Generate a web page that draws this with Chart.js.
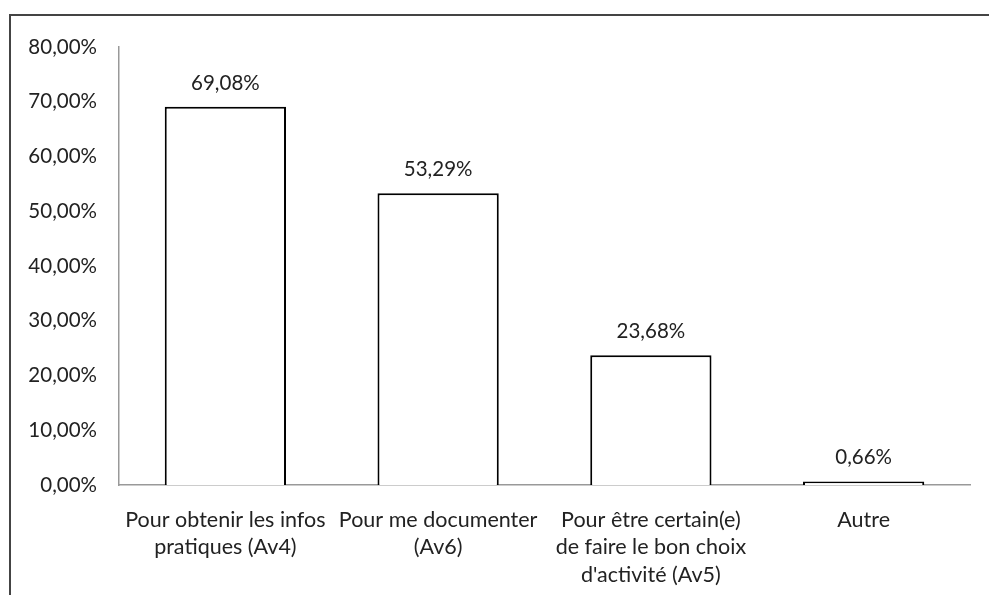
<!DOCTYPE html>
<html>
<head>
<meta charset="utf-8">
<script src="https://cdn.jsdelivr.net/npm/chart.js@4/dist/chart.umd.min.js"></script>
<style>
  html, body { margin: 0; padding: 0; background: #fff; }
  #wrap { width: 989px; height: 595px; position: relative; }
</style>
</head>
<body>
<div id="wrap"><canvas id="chart" width="989" height="595"></canvas></div>
<script>
// ── Data ──
const categories = [
    ['Pour obtenir les infos', 'pratiques (Av4)'],
    ['Pour me documenter', '(Av6)'],
    ['Pour être certain(e)', 'de faire le bon choix', "d'activité (Av5)"],
    ['Autre']
];
const values = [69.08, 53.29, 23.68, 0.66];
const yTicks = [0, 10, 20, 30, 40, 50, 60, 70, 80];

const fmt = v => v.toFixed(2).replace('.', ',') + '%';

// ── Frame (top + left border) ──
const framePlugin = {
    id: 'frame',
    beforeDraw(chart) {
        const c = chart.ctx;
        c.save();
        c.strokeStyle = '#444';
        c.lineWidth = 2;
        c.beginPath();
        c.moveTo(10, 595);
        c.lineTo(10, 15);
        c.lineTo(989, 15);
        c.stroke();
        c.restore();
    }
};

// ── Value labels above bars ──
const valueLabels = {
    id: 'valueLabels',
    afterDatasetsDraw(chart) {
        const c = chart.ctx;
        const meta = chart.getDatasetMeta(0);
        c.save();
        c.font = '20.5px Lato';
        c.fillStyle = '#222';
        c.textAlign = 'center';
        c.textBaseline = 'alphabetic';
        meta.data.forEach((bar, i) => {
            c.fillText(fmt(values[i]), bar.x, bar.y - 17);
        });
        c.restore();
    }
};

Chart.defaults.font.family = 'Lato';
Chart.defaults.font.size = 20.5;
Chart.defaults.color = '#222';

new Chart(document.getElementById('chart'), {
    type: 'bar',
    data: {
        labels: categories,
        datasets: [{
            data: values,
            backgroundColor: '#fff',
            borderColor: '#000',
            borderWidth: 2,
            barPercentage: 0.57,
            categoryPercentage: 1
        }]
    },
    options: {
        responsive: false,
        animation: false,
        layout: { padding: { left: 0, right: 19, top: 47, bottom: 0 } },
        plugins: { legend: { display: false }, tooltip: { enabled: false } },
        scales: {
            x: {
                grid: { display: false, drawTicks: false },
                border: { color: '#999', width: 1.5 },
                ticks: { padding: 21, maxRotation: 0, autoSkip: false, font: { size: 21.5, lineHeight: 1.28 } },
                afterFit: s => { s.height = 110; }
            },
            y: {
                min: 0, max: 80,
                afterBuildTicks: s => { s.ticks = yTicks.map(v => ({ value: v })); },
                grid: { display: false, drawTicks: false },
                border: { color: '#999', width: 1.5 },
                ticks: { padding: 22, callback: v => fmt(v) },
                afterFit: s => { s.width = 119; }
            }
        }
    },
    plugins: [framePlugin, valueLabels]
});
</script>
</body>
</html>
